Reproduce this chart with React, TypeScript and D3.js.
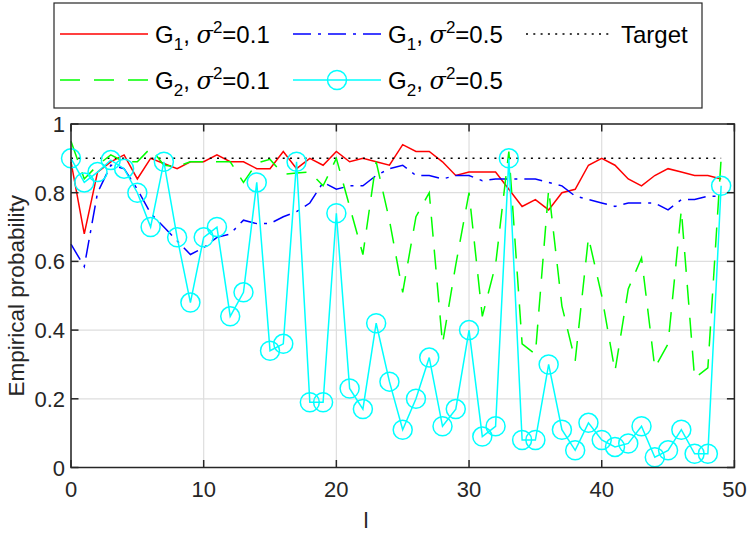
import React from 'react';
import * as d3 from 'd3';

// l values (x axis)
const lValues = d3.range(0, 50);

// G1, sigma^2 = 0.1 (red solid)
const g1Var01 = [0.89, 0.68, 0.86, 0.89, 0.91, 0.84, 0.9, 0.885, 0.87, 0.89,
  0.89, 0.91, 0.89, 0.89, 0.87, 0.87, 0.92, 0.87, 0.9, 0.88,
  0.92, 0.89, 0.9, 0.89, 0.88, 0.94, 0.92, 0.92, 0.89, 0.85,
  0.86, 0.86, 0.86, 0.81, 0.76, 0.78, 0.75, 0.8, 0.81, 0.88,
  0.9, 0.88, 0.84, 0.82, 0.85, 0.87, 0.86, 0.85, 0.85, 0.84];

// G1, sigma^2 = 0.5 (blue dash-dot)
const g1Var05 = [0.65, 0.585, 0.8, 0.88, 0.87, 0.81, 0.74, 0.7, 0.66, 0.62,
  0.64, 0.67, 0.68, 0.72, 0.71, 0.71, 0.73, 0.745, 0.77, 0.83,
  0.81, 0.82, 0.82, 0.85, 0.87, 0.88, 0.85, 0.85, 0.84, 0.85,
  0.85, 0.835, 0.84, 0.84, 0.84, 0.84, 0.83, 0.82, 0.79, 0.78,
  0.77, 0.76, 0.77, 0.77, 0.77, 0.75, 0.78, 0.78, 0.79, 0.79];

// G2, sigma^2 = 0.1 (green dashed)
const g2Var01 = [0.95, 0.84, 0.88, 0.91, 0.89, 0.89, 0.93, 0.88, 0.876, 0.89,
  0.89, 0.89, 0.89, 0.83, 0.886, 0.897, 0.854, 0.857, 0.86, 0.82,
  0.9, 0.76, 0.62, 0.89, 0.72, 0.51, 0.73, 0.8, 0.36, 0.59,
  0.8, 0.44, 0.59, 0.92, 0.36, 0.33, 0.81, 0.47, 0.31, 0.67,
  0.5, 0.28, 0.52, 0.61, 0.29, 0.36, 0.75, 0.26, 0.29, 0.9];

// G2, sigma^2 = 0.5 (cyan with circles)
const g2Var05 = [0.9, 0.83, 0.86, 0.895, 0.87, 0.8, 0.7, 0.89, 0.67, 0.48,
  0.67, 0.7, 0.44, 0.51, 0.83, 0.34, 0.36, 0.89, 0.19, 0.19,
  0.74, 0.23, 0.17, 0.42, 0.25, 0.11, 0.2, 0.32, 0.12, 0.17,
  0.4, 0.09, 0.12, 0.9, 0.08, 0.08, 0.3, 0.11, 0.05, 0.13,
  0.08, 0.06, 0.07, 0.12, 0.03, 0.05, 0.11, 0.04, 0.04, 0.82];

const targetValue = 0.9;

const xTicks = [0, 10, 20, 30, 40, 50];
const xTickLabels = ['0', '10', '20', '30', '40', '50'];
const yTicks = [0, 0.2, 0.4, 0.6, 0.8, 1];
const yTickLabels = ['0', '0.2', '0.4', '0.6', '0.8', '1'];

const FONT = '"Liberation Sans", Arial, Helvetica, sans-serif';
const AX = '#262626';
const LFS = 24;

function LegendLabel({ x, y, g, s }: { x: number; y: number; g: string; s: string }) {
  return (
    <text x={x} y={y} fontSize={LFS} fill="#000" fontFamily={FONT}>
      G<tspan fontSize={17} dy={7}>{g}</tspan>
      <tspan dy={-7}>, </tspan>
      <tspan fontStyle="italic" fontFamily='"DejaVu Serif", serif'>σ</tspan>
      <tspan fontSize={17} dy={-10}>2</tspan>
      <tspan dy={10}>={s}</tspan>
    </text>
  );
}

export default function App() {
  const W = 747;
  const H = 534;
  const left = 71, right = 734.4, top = 124, bottom = 467.5;
  const x = d3.scaleLinear().domain([0, 50]).range([left, right]);
  const y = d3.scaleLinear().domain([0, 1]).range([bottom, top]);
  const line = d3.line<number>().x((_, i) => x(lValues[i])).y((d) => y(d));
  const target = d3.line<number>().x((d) => x(d)).y(() => y(targetValue));
  const tickLen = 7.5;

  const lg = { x0: 54, y0: 3, x1: 702, y1: 108, row1: 34, row2: 80 };
  const cols = [
    { l0: 60, l1: 148, t: 155 },
    { l0: 293, l1: 381, t: 388 },
    { l0: 526, l1: 609, t: 621 },
  ];
  const ty = 8.5;

  return (
    <svg width={W} height={H} style={{ position: 'absolute', left: 0, top: 0, background: '#fff' }}
      fontFamily={FONT}>
      <rect x={0} y={0} width={W} height={H} fill="#fff" />
      {/* grid */}
      <g stroke="#dedede" strokeWidth={1.2}>
        {xTicks.map((t) => (
          <line key={'gx' + t} x1={x(t)} x2={x(t)} y1={top} y2={bottom} />
        ))}
        {yTicks.map((t) => (
          <line key={'gy' + t} x1={left} x2={right} y1={y(t)} y2={y(t)} />
        ))}
      </g>
      {/* series */}
      <path d={line(g1Var01) || ''} fill="none" stroke="#ff0000" strokeWidth={1.5} />
      <path d={line(g1Var05) || ''} fill="none" stroke="#0000ff" strokeWidth={1.5} strokeDasharray="18,7,3,7" />
      <path d={target([lValues[0], lValues[lValues.length - 1]]) || ''} fill="none" stroke="#000" strokeWidth={1.5} strokeDasharray="2,5.3" />
      <path d={line(g2Var01) || ''} fill="none" stroke="#00ff00" strokeWidth={1.5} strokeDasharray="20,13" />
      <path d={line(g2Var05) || ''} fill="none" stroke="#00ffff" strokeWidth={1.5} />
      {g2Var05.map((v, i) => (
        <circle key={'c' + i} cx={x(lValues[i])} cy={y(v)} r={9.5} fill="none" stroke="#00ffff" strokeWidth={1.5} />
      ))}
      {/* axes box */}
      <g stroke={AX} strokeWidth={1.5} fill="none">
        <rect x={left} y={top} width={right - left} height={bottom - top} />
        {xTicks.map((t) => (
          <g key={'tx' + t}>
            <line x1={x(t)} x2={x(t)} y1={bottom} y2={bottom - tickLen} />
            <line x1={x(t)} x2={x(t)} y1={top} y2={top + tickLen} />
          </g>
        ))}
        {yTicks.map((t) => (
          <g key={'ty' + t}>
            <line x1={left} x2={left + tickLen} y1={y(t)} y2={y(t)} />
            <line x1={right} x2={right - tickLen} y1={y(t)} y2={y(t)} />
          </g>
        ))}
      </g>
      {/* tick labels */}
      <g fill={AX} fontSize={22}>
        {xTicks.map((t, i) => (
          <text key={'lx' + t} x={x(t)} y={497} textAnchor="middle">{xTickLabels[i]}</text>
        ))}
        {yTicks.map((t, i) => (
          <text key={'ly' + t} x={65} y={y(t) + 8} textAnchor="end">{yTickLabels[i]}</text>
        ))}
      </g>
      {/* axis labels */}
      <text x={366} y={528} fontSize={22.5} fill={AX} textAnchor="middle">l</text>
      <text transform={`translate(23.5,${(top + bottom) / 2}) rotate(-90)`} fontSize={22.5} fill={AX} textAnchor="middle">
        Empirical probability
      </text>
      {/* legend */}
      <rect x={lg.x0} y={lg.y0} width={lg.x1 - lg.x0} height={lg.y1 - lg.y0} fill="#fff" stroke={AX} strokeWidth={1.2} />
      <line x1={cols[0].l0} x2={cols[0].l1} y1={lg.row1} y2={lg.row1} stroke="#ff0000" strokeWidth={1.5} />
      <LegendLabel x={cols[0].t} y={lg.row1 + ty} g="1" s="0.1" />
      <line x1={cols[1].l0} x2={cols[1].l1} y1={lg.row1} y2={lg.row1} stroke="#0000ff" strokeWidth={1.5} strokeDasharray="18,7,3,7" />
      <LegendLabel x={cols[1].t} y={lg.row1 + ty} g="1" s="0.5" />
      <line x1={cols[2].l0} x2={cols[2].l1} y1={lg.row1} y2={lg.row1} stroke="#000" strokeWidth={1.5} strokeDasharray="2,5.3" />
      <text x={cols[2].t} y={lg.row1 + ty} fontSize={LFS} fill="#000">Target</text>
      <line x1={cols[0].l0} x2={cols[0].l1} y1={lg.row2} y2={lg.row2} stroke="#00ff00" strokeWidth={1.5} strokeDasharray="20,14" />
      <LegendLabel x={cols[0].t} y={lg.row2 + ty} g="2" s="0.1" />
      <line x1={cols[1].l0} x2={cols[1].l1} y1={lg.row2} y2={lg.row2} stroke="#00ffff" strokeWidth={1.5} />
      <circle cx={(cols[1].l0 + cols[1].l1) / 2} cy={lg.row2} r={9.5} fill="none" stroke="#00ffff" strokeWidth={1.5} />
      <LegendLabel x={cols[1].t} y={lg.row2 + ty} g="2" s="0.5" />
    </svg>
  );
}
